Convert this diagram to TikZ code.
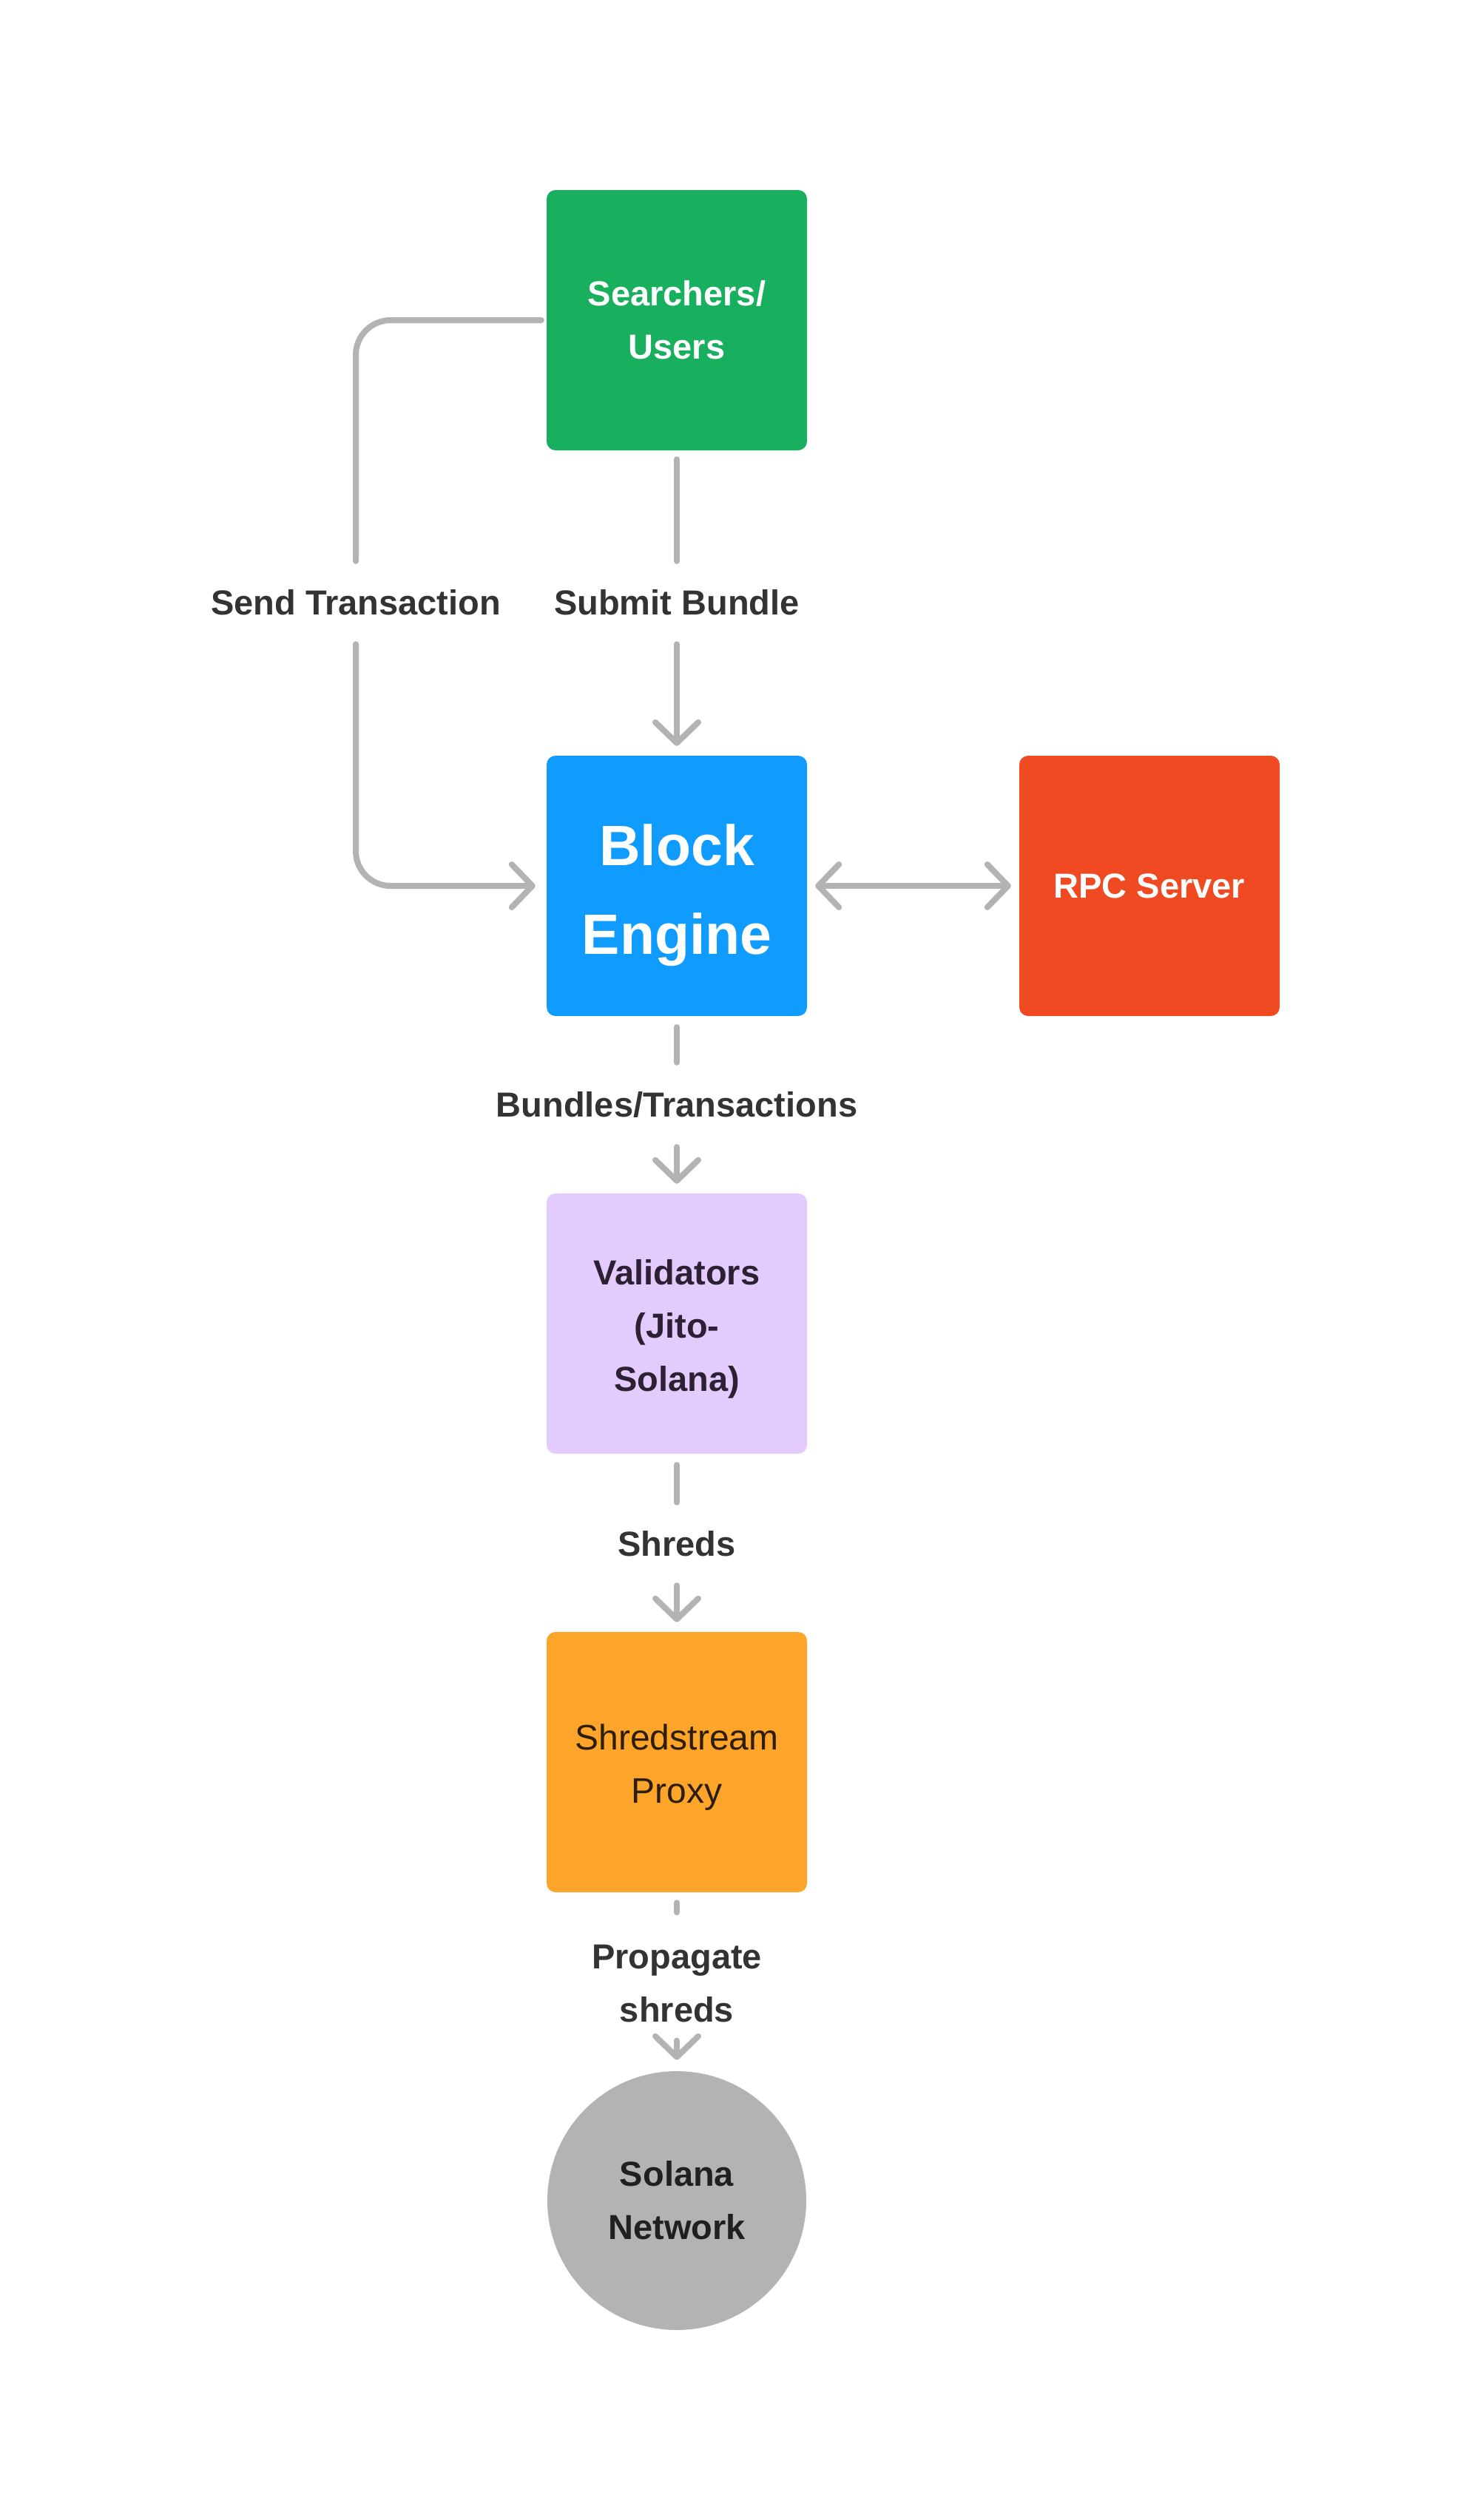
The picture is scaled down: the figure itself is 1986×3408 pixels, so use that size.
\documentclass[tikz,border=0pt]{standalone}
\usepackage{fontspec}
\setmainfont{Liberation Sans}
\usetikzlibrary{arrows.meta}
\definecolor{cgreen}{RGB}{24,175,94}
\definecolor{cblue}{RGB}{16,155,255}
\definecolor{cred}{RGB}{240,74,35}
\definecolor{clav}{RGB}{227,204,253}
\definecolor{corange}{RGB}{253,165,42}
\definecolor{cgray}{RGB}{179,179,179}
\definecolor{ctext}{RGB}{51,51,51}
\definecolor{cvtext}{RGB}{43,33,50}
\definecolor{cotext}{RGB}{45,30,10}
\definecolor{cntext}{RGB}{32,32,32}
\begin{document}
\begin{tikzpicture}[x=1pt,y=-1pt,
  box/.style={rectangle, rounded corners=12pt, minimum width=352pt, minimum height=352pt, inner sep=0pt, align=center, font=\bfseries\fontsize{47}{72}\selectfont},
  conn/.style={draw=cgray, line width=8pt, line cap=round, line join=round},
  arr/.style={conn, -{Straight Barb[length=28pt,width=58pt,round]}},
  darr/.style={conn, {Straight Barb[length=28pt,width=58pt,round]}-{Straight Barb[length=28pt,width=58pt,round]}},
  lbl/.style={text=ctext, font=\bfseries\fontsize{47}{72}\selectfont, align=center, inner sep=0pt}]
\fill[white] (0,0) rectangle (1986,3408);
\useasboundingbox (0,0) rectangle (1986,3408);

% main nodes
\node[box, fill=cgreen, text=white] (search) at (915,433) {Searchers/\\Users};
\node[box, fill=cblue, text=white, font=\bfseries\fontsize{77}{120}\selectfont] (block) at (915,1198) {\rule{0pt}{82pt}Block\\Engine};
\node[box, fill=cred, text=white] (rpc) at (1554,1198) {RPC Server};
\node[box, fill=clav, text=cvtext] (valid) at (915,1790) {\rule{0pt}{48pt}Validators\\(Jito-\\Solana)};
\node[box, fill=corange, text=cotext, font=\fontsize{48}{72}\selectfont] (shred) at (915,2383) {\rule{0pt}{49pt}Shredstream\\Proxy};
\node[circle, fill=cgray, minimum size=350pt, inner sep=0pt, align=center, text=cntext, font=\bfseries\fontsize{47}{72}\selectfont] (net) at (915,2976) {Solana\\Network};

% labels
\node[lbl, minimum height=112pt] (st) at (481,815) {Send Transaction};
\node[lbl, minimum height=112pt] (sb) at (915,815) {Submit Bundle};
\node[lbl, minimum height=114pt] (bt) at (915,1494) {Bundles/Transactions};
\node[lbl, minimum height=112pt] (sh) at (915,2088) {Shreds};
\node[lbl, minimum height=173pt] (ps) at (915,2673) {\rule{0pt}{52pt}Propagate\\shreds};

% connectors
\draw[conn, rounded corners=47pt, shorten <=7pt] (search.west) -| (st.north);
\draw[arr, rounded corners=47pt, shorten >=15pt] (st.south) |- (block.west);
\draw[conn, shorten <=12pt] (search.south) -- (sb.north);
\draw[arr, shorten >=13pt] (sb.south) -- (block.north);
\draw[darr, shorten <=11pt, shorten >=11pt] (block.east) -- (rpc.west);
\draw[conn, shorten <=15pt] (block.south) -- (bt.north);
\draw[arr, shorten >=13pt] (bt.south) -- (valid.north);
\draw[conn, shorten <=15pt] (valid.south) -- (sh.north);
\draw[arr, shorten >=13pt] (sh.south) -- (shred.north);
\draw[conn, shorten <=14pt] (shred.south) -- (ps.north);
\draw[arr, shorten >=15pt] (ps.south) -- (net.north);
\end{tikzpicture}
\end{document}
